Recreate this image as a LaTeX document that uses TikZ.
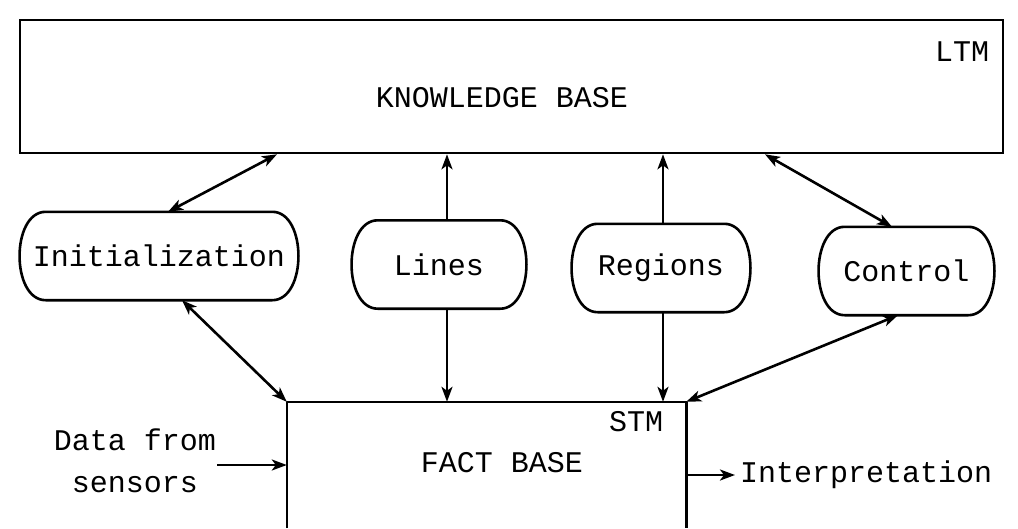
\documentclass[tikz,border=0pt]{standalone}
\usepackage{fontspec}
\setmonofont{Liberation Mono}
\usetikzlibrary{arrows.meta}

% capsule-shaped outline drawn around a named node
\newcommand\capsuleoutline[1]{%
  \draw[outline] ([xshift=26pt]#1.north west) -- ([xshift=-26pt]#1.north east)
    .. controls ([xshift=9pt]#1.north east) and ([xshift=9pt]#1.south east) .. ([xshift=-26pt]#1.south east)
    -- ([xshift=26pt]#1.south west)
    .. controls ([xshift=-9pt]#1.south west) and ([xshift=-9pt]#1.north west) .. cycle;}

\begin{document}
\begin{tikzpicture}[x=1pt,y=-1pt,
  every node/.style={font=\ttfamily\fontsize{30}{42}\selectfont, inner sep=0pt},
  outline/.style={line width=2.6pt, line join=round},
  module/.style={draw=none, minimum height=88pt, minimum width=#1},
  link/.style={line width=2.6pt, {Stealth[length=15pt,width=11pt,inset=4pt]}-{Stealth[length=15pt,width=11pt,inset=4pt]}},
  up/.style={line width=2.6pt, -{Stealth[length=15pt,width=11pt,inset=4pt]}}
]
\useasboundingbox (0,0) rectangle (1018,528);

% long-term memory
\node[draw, line width=2.6pt, minimum width=983pt, minimum height=133pt] (kb) at (511.5,86.5) {};
\node (kbtext) at (502,98) {KNOWLEDGE BASE};
\node (ltm) at (962,52) {LTM};

% knowledge sources
\node[module=278pt] (init) at (159,256) {Initialization};
\node[module=174pt] (lines) at (439,264.5) {Lines};
\node[module=178pt] (regions) at (661,268) {Regions};
\node[module=175pt] (control) at (906.5,271) {Control};
\capsuleoutline{init}
\capsuleoutline{lines}
\capsuleoutline{regions}
\capsuleoutline{control}

% short-term memory (open at the bottom)
\node[minimum width=399pt, minimum height=126pt] (fb) at (486.5,465) {};
\draw[outline] (fb.south west) -- (fb.north west) -- (fb.north east) -- (fb.south east);
\node (fbtext) at (502,463) {FACT BASE};
\node (stm) at (636,422) {STM};

% input and output
\node[align=center] (data) at (135,461) {Data from\\sensors};
\coordinate (datain) at (217,465);
\node[anchor=west, inner xsep=0pt] (interp) at (735,475) {\,Interpretation};

% connections
\draw[link] ([xshift=-234.5pt]kb.south) -- ([xshift=9pt]init.north);
\draw[up] ([xshift=8pt]lines.north) -- ([xshift=-64.5pt]kb.south);
\draw[up] ([xshift=2pt]regions.north) -- ([xshift=151.5pt]kb.south);
\draw[link] ([xshift=253.5pt]kb.south) -- ([xshift=-14.5pt]control.north);
\draw[up] ([xshift=8pt]lines.south) -- ([xshift=-39.5pt]fb.north);
\draw[up] ([xshift=2pt]regions.south) -- ([xshift=176.5pt]fb.north);
\draw[link] ([xshift=23pt]init.south) -- (fb.north west);
\draw[link] ([xshift=-8.5pt]control.south) -- (fb.north east);
\draw[up] (datain) -- (fb.west);
\draw[up] ([yshift=-10pt]fb.east) -- (interp.west);
\end{tikzpicture}
\end{document}
